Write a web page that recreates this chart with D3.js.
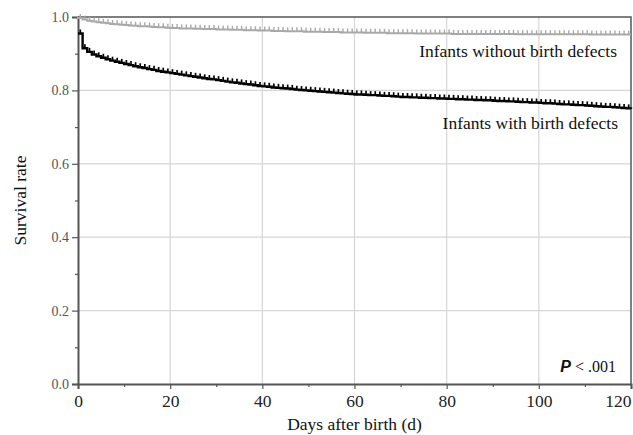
<!DOCTYPE html>
<html>
<head>
<meta charset="utf-8">
<script src="https://cdn.jsdelivr.net/npm/d3@7"></script>
<style>
  body { margin: 0; background: #fff; }
  text { font-family: "Liberation Serif", "Times New Roman", serif; }
</style>
</head>
<body>
<div id="chart"></div>
<script>

// days 0..120, survival after each day
const days = d3.range(0, 121)

const withDefects = [
	0.955, 0.915, 0.905, 0.898, 0.893, 0.889, 0.885, 0.881, 0.878, 0.875, 0.872,
	0.869, 0.866, 0.863, 0.861, 0.858, 0.856, 0.853, 0.851, 0.849, 0.847,
	0.845, 0.843, 0.841, 0.839, 0.837, 0.835, 0.833, 0.831, 0.830, 0.828,
	0.826, 0.824, 0.822, 0.821, 0.819, 0.817, 0.816, 0.814, 0.812, 0.811,
	0.810, 0.808, 0.807, 0.806, 0.805, 0.804, 0.802, 0.801, 0.800, 0.799,
	0.798, 0.797, 0.796, 0.795, 0.794, 0.793, 0.792, 0.791, 0.790, 0.789,
	0.789, 0.788, 0.787, 0.787, 0.786, 0.785, 0.785, 0.784, 0.783, 0.782,
	0.782, 0.781, 0.781, 0.780, 0.780, 0.779, 0.779, 0.778, 0.778, 0.777,
	0.777, 0.776, 0.776, 0.775, 0.775, 0.774, 0.774, 0.773, 0.773, 0.772,
	0.771, 0.771, 0.770, 0.770, 0.769, 0.768, 0.768, 0.767, 0.767, 0.766,
	0.765, 0.765, 0.764, 0.763, 0.762, 0.762, 0.761, 0.760, 0.760, 0.759,
	0.758, 0.757, 0.756, 0.755, 0.755, 0.754, 0.753, 0.752, 0.751, 0.750
]

const withoutDefects = [
	0.997, 0.993, 0.990, 0.988, 0.986, 0.984, 0.983, 0.981, 0.980, 0.979, 0.978,
	0.977, 0.976, 0.975, 0.975, 0.974, 0.973, 0.972, 0.972, 0.971, 0.970,
	0.970, 0.969, 0.969, 0.969, 0.968, 0.968, 0.967, 0.967, 0.967, 0.966,
	0.966, 0.966, 0.965, 0.965, 0.965, 0.964, 0.964, 0.964, 0.963, 0.963,
	0.963, 0.962, 0.962, 0.962, 0.961, 0.961, 0.961, 0.961, 0.960, 0.960,
	0.960, 0.960, 0.959, 0.959, 0.959, 0.959, 0.958, 0.958, 0.958, 0.958,
	0.958, 0.957, 0.957, 0.957, 0.957, 0.957, 0.956, 0.956, 0.956, 0.956,
	0.956, 0.956, 0.955, 0.955, 0.955, 0.955, 0.955, 0.955, 0.955, 0.955,
	0.954, 0.954, 0.954, 0.954, 0.954, 0.954, 0.954, 0.954, 0.954, 0.954,
	0.954, 0.954, 0.954, 0.954, 0.953, 0.953, 0.953, 0.953, 0.953, 0.953,
	0.953, 0.953, 0.953, 0.953, 0.953, 0.953, 0.953, 0.953, 0.953, 0.953,
	0.952, 0.952, 0.952, 0.952, 0.952, 0.952, 0.952, 0.952, 0.952, 0.952
]

const xTicks = [0, 20, 40, 60, 80, 100, 120]
const xMinor = [10, 30, 50, 70, 90, 110]
const yTicks = [0, 0.2, 0.4, 0.6, 0.8, 1.0]
const yMinor = [0.1, 0.3, 0.5, 0.7, 0.9]

const width = 633, height = 435
const margin = {top: 17, right: 2, bottom: 51, left: 78}
const serifSize = 17.5

const svg = d3.select('#chart').append('svg')
	.attr('width', width)
	.attr('height', height)

const x = d3.scaleLinear().domain([0, 120]).range([margin.left, width - margin.right])
const y = d3.scaleLinear().domain([0, 1]).range([height - margin.bottom, margin.top])

// grid
svg.append('g').selectAll('line')
	.data(xTicks.slice(1, -1))
	.enter().append('line')
	.attr('x1', d => x(d)).attr('x2', d => x(d))
	.attr('y1', y(0)).attr('y2', y(1))
	.attr('stroke', '#d6d6d6').attr('stroke-width', 1.2)

svg.append('g').selectAll('line')
	.data(yTicks.slice(1, -1))
	.enter().append('line')
	.attr('x1', x(0)).attr('x2', x(120))
	.attr('y1', d => y(d)).attr('y2', d => y(d))
	.attr('stroke', '#d6d6d6').attr('stroke-width', 1.2)

// frame top/right
svg.append('path')
	.attr('d', `M${x(0)},${y(1)} H${x(120)} V${y(0)}`)
	.attr('fill', 'none').attr('stroke', '#555').attr('stroke-width', 1.5)

// axes
const xAxis = svg.append('g')
	.attr('transform', `translate(0,${y(0)})`)
	.call(d3.axisBottom(x).tickValues(xTicks).tickSize(5).tickPadding(6).tickFormat(d3.format('d')))
xAxis.select('.domain').attr('stroke', '#555').attr('stroke-width', 2)
xAxis.selectAll('.tick line').attr('stroke', '#555').attr('stroke-width', 1.2)
xAxis.selectAll('text').attr('font-family', '"Liberation Serif", serif').attr('font-size', serifSize).attr('fill', '#222')
// last label is pulled in so it stays inside the page
xAxis.selectAll('.tick').filter(d => d === 120).select('text')
	.attr('text-anchor', 'end').attr('dx', 0)

svg.append('g')
	.attr('transform', `translate(0,${y(0)})`)
	.call(d3.axisBottom(x).tickValues(xMinor).tickSize(3).tickFormat(''))
	.call(g => g.select('.domain').remove())
	.selectAll('.tick line').attr('stroke', '#555').attr('stroke-width', 1.2)

const yAxis = svg.append('g')
	.attr('transform', `translate(${x(0)},0)`)
	.call(d3.axisLeft(y).tickValues(yTicks).tickSize(6).tickPadding(3).tickFormat(d3.format('.1f')))
yAxis.select('.domain').attr('stroke', '#555').attr('stroke-width', 2)
yAxis.selectAll('.tick line').attr('stroke', '#555').attr('stroke-width', 1.2)
yAxis.selectAll('text').attr('font-family', '"DejaVu Sans", sans-serif')
	.attr('font-size', 14).attr('fill', '#555')

svg.append('g')
	.attr('transform', `translate(${x(0)},0)`)
	.call(d3.axisLeft(y).tickValues(yMinor).tickSize(3).tickFormat(''))
	.call(g => g.select('.domain').remove())
	.selectAll('.tick line').attr('stroke', '#555').attr('stroke-width', 1.2)

// step curves with censor ticks
function drawCurve(values, start, color, lw) {

	let pts = [[0, start]]
	values.forEach((v, i) => {
		if (i > 0) pts.push([days[i], values[i - 1]])
		pts.push([days[i], v])
	})

	let line = d3.line().x(d => x(d[0])).y(d => y(d[1]))

	svg.append('path')
		.datum(pts)
		.attr('d', line)
		.attr('fill', 'none')
		.attr('stroke', color)
		.attr('stroke-width', lw)

	svg.append('g').selectAll('line')
		.data(values.slice(0, -1))
		.enter().append('line')
		.attr('x1', (d, i) => x(days[i] + 0.5)).attr('x2', (d, i) => x(days[i] + 0.5))
		.attr('y1', d => y(d)).attr('y2', d => y(d) - 4)
		.attr('stroke', color)
		.attr('stroke-width', lw * 0.7)
}

drawCurve(withoutDefects, 1.0, '#a9a9a9', 2)
drawCurve(withDefects, withDefects[0], '#000', 2.4)

// labels
svg.append('text')
	.attr('x', 617).attr('y', 57)
	.attr('text-anchor', 'end')
	.attr('font-size', serifSize)
	.attr('fill', '#111')
	.text('Infants without birth defects')

svg.append('text')
	.attr('x', 618).attr('y', 129)
	.attr('text-anchor', 'end')
	.attr('font-size', serifSize)
	.attr('fill', '#111')
	.text('Infants with birth defects')

let p = svg.append('text')
	.attr('x', 616).attr('y', 372)
	.attr('text-anchor', 'end')
	.attr('font-size', 16)
	.attr('fill', '#111')
p.append('tspan').attr('font-style', 'italic').attr('font-weight', 'bold')
	.attr('font-family', '"Liberation Sans", Arial, sans-serif').text('P')
p.append('tspan').text(' < .001')

svg.append('text')
	.attr('x', (x(0) + x(120)) / 2)
	.attr('y', 430)
	.attr('text-anchor', 'middle')
	.attr('font-size', serifSize)
	.attr('fill', '#111')
	.text('Days after birth (d)')

svg.append('text')
	.attr('transform', `translate(26,${(y(0) + y(1)) / 2}) rotate(-90)`)
	.attr('text-anchor', 'middle')
	.attr('font-size', serifSize)
	.attr('fill', '#111')
	.text('Survival rate')

</script>
</body>
</html>
